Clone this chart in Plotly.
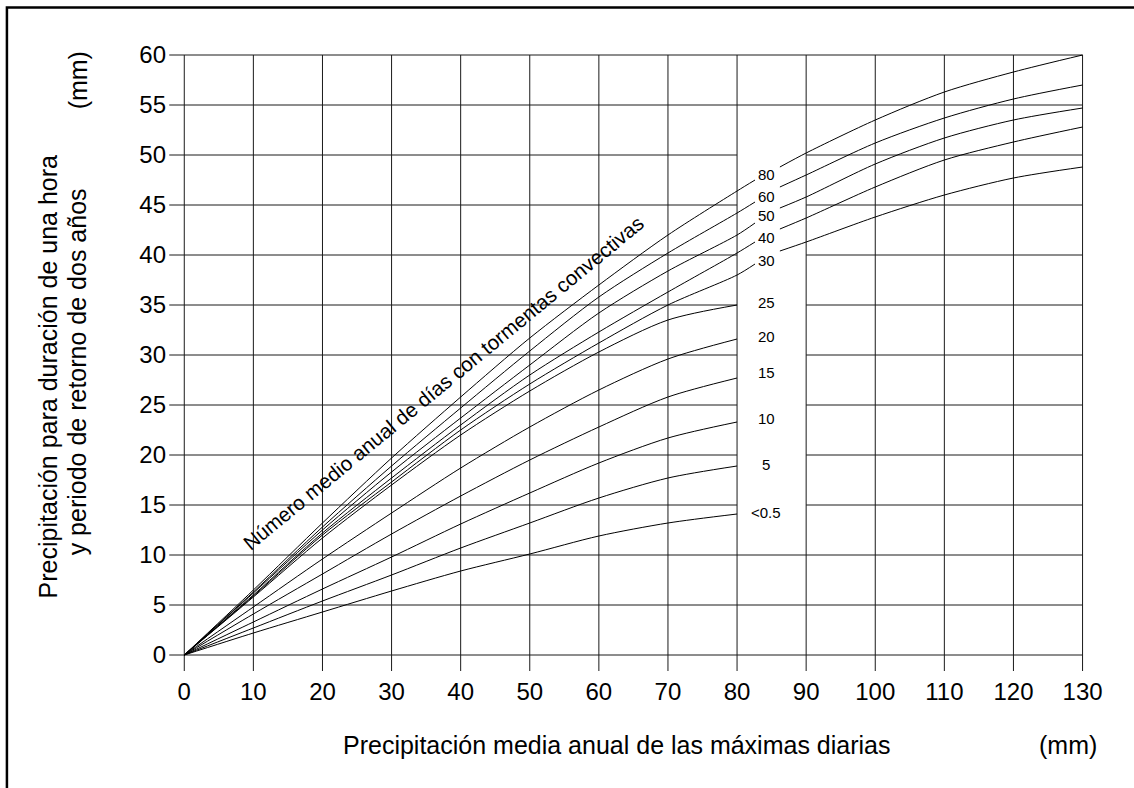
import plotly.graph_objects as go

# ---------------- data ----------------
x_left = [0, 10, 20, 30, 40, 50, 60, 70, 80]
x_left_ext = [0, 10, 20, 30, 40, 50, 60, 70, 80, 82.6]
x_right = [86.2, 90, 100, 110, 120, 130]

# lower family (end at 80)
y_lt05 = [0, 2.2, 4.3, 6.4, 8.4, 10.1, 11.9, 13.2, 14.1]
y_5 = [0, 2.7, 5.4, 8.0, 10.7, 13.2, 15.7, 17.7, 18.9]
y_10 = [0, 3.3, 6.6, 9.8, 13.1, 16.2, 19.2, 21.7, 23.3]
y_15 = [0, 4.1, 8.1, 12.1, 15.9, 19.5, 22.8, 25.8, 27.7]
y_20 = [0, 4.8, 9.6, 14.2, 18.7, 22.8, 26.5, 29.6, 31.6]
y_25 = [0, 5.8, 11.7, 17.0, 22.0, 26.4, 30.3, 33.5, 35.0]

# upper family (left part + right part)
y_30_l = [0, 5.9, 12.0, 17.3, 22.5, 27.1, 31.2, 35.0, 38.0, 39.1]
y_40_l = [0, 6.0, 12.2, 17.7, 23.0, 28.0, 32.3, 36.3, 40.2, 41.3]
y_50_l = [0, 6.2, 12.5, 18.3, 23.7, 29.0, 34.2, 38.4, 42.0, 43.2]
y_60_l = [0, 6.3, 12.8, 18.9, 24.7, 30.4, 35.8, 40.2, 44.2, 45.3]
y_80_l = [0, 6.5, 13.2, 19.7, 25.8, 31.7, 37.0, 42.0, 46.4, 47.5]

y_30_r = [40.4, 41.3, 43.8, 46.0, 47.7, 48.8]
y_40_r = [42.6, 43.7, 46.8, 49.5, 51.3, 52.8]
y_50_r = [44.7, 45.8, 49.1, 51.7, 53.5, 54.7]
y_60_r = [46.8, 48.0, 51.2, 53.7, 55.6, 57.0]
y_80_r = [48.8, 50.2, 53.5, 56.3, 58.3, 60.0]

curve_labels = ["80", "60", "50", "40", "30", "25", "20", "15", "10", "5", "<0.5"]
label_y = [48.1, 45.9, 44.0, 41.8, 39.5, 35.3, 31.9, 28.3, 23.7, 19.1, 14.3]
label_x = 84.2

x_ticks = list(range(0, 131, 10))
y_ticks = list(range(0, 61, 5))

FONT = "Liberation Sans, Arial, sans-serif"

# ---------------- figure ----------------
fig = go.Figure()

lower = [y_lt05, y_5, y_10, y_15, y_20, y_25]
for ys in lower:
    fig.add_trace(go.Scatter(x=x_left, y=ys, mode="lines",
                             line=dict(color="black", width=1, shape="spline", smoothing=0.8),
                             hoverinfo="skip", showlegend=False))

upper = [(y_30_l, y_30_r), (y_40_l, y_40_r), (y_50_l, y_50_r), (y_60_l, y_60_r), (y_80_l, y_80_r)]
for yl, yr in upper:
    fig.add_trace(go.Scatter(x=x_left_ext, y=yl, mode="lines",
                             line=dict(color="black", width=1, shape="spline", smoothing=0.8),
                             hoverinfo="skip", showlegend=False))
    fig.add_trace(go.Scatter(x=x_right, y=yr, mode="lines",
                             line=dict(color="black", width=1, shape="spline", smoothing=0.8),
                             hoverinfo="skip", showlegend=False))

# ---------------- grid (with the gap for the label column) ----------------
shapes = []
GRID = dict(color="#1a1a1a", width=1)
x_ext = -2.17   # horizontal grid lines stick out to the left
y_ext = -1.6    # vertical grid lines stick out downward
for xv in x_ticks:
    shapes.append(dict(type="line", xref="x", yref="y", x0=xv, x1=xv, y0=y_ext, y1=60,
                       line=GRID, layer="below"))
for yv in y_ticks:
    if 15 <= yv <= 50:
        shapes.append(dict(type="line", xref="x", yref="y", x0=x_ext, x1=80, y0=yv, y1=yv,
                           line=GRID, layer="below"))
        shapes.append(dict(type="line", xref="x", yref="y", x0=90, x1=130, y0=yv, y1=yv,
                           line=GRID, layer="below"))
    else:
        shapes.append(dict(type="line", xref="x", yref="y", x0=x_ext, x1=130, y0=yv, y1=yv,
                           line=GRID, layer="below"))

# plot area geometry (pixels)
W, H = 1134, 788
PL, PW = 166.7, 919.7
PT, PH = 50.0, 625.0


def px2paper(px, py):
    return (px - PL) / PW, (PT + PH - py) / PH


# outer frame (only left/top edges visible in the reference)
fx0, fy1 = px2paper(6.5, 7.5)
fx1, fy0 = px2paper(1150, 800)
shapes.append(dict(type="rect", xref="paper", yref="paper", x0=fx0, x1=fx1, y0=fy0, y1=fy1,
                   line=dict(color="black", width=2.5), fillcolor="rgba(0,0,0,0)", layer="above"))

annotations = []
for t, yv in zip(curve_labels, label_y):
    annotations.append(dict(x=label_x, y=yv, xref="x", yref="y", text=t, showarrow=False,
                            font=dict(family=FONT, size=15, color="black"),
                            xanchor="center", yanchor="middle"))

annotations.append(dict(x=37.5, y=27.3, xref="x", yref="y",
                        text="Número medio anual de días con tormentas convectivas",
                        showarrow=False, textangle=-39.5,
                        font=dict(family=FONT, size=20.5, color="black"),
                        xanchor="center", yanchor="middle"))

# axis titles
ax, ay = px2paper(48, 377)
annotations.append(dict(x=ax, y=ay, xref="paper", yref="paper",
                        text="Precipitación para duración de una hora", showarrow=False,
                        textangle=-90, font=dict(family=FONT, size=25, color="black"),
                        xanchor="center", yanchor="middle"))
ax, ay = px2paper(77, 372)
annotations.append(dict(x=ax, y=ay, xref="paper", yref="paper",
                        text="y periodo de retorno de dos años", showarrow=False,
                        textangle=-90, font=dict(family=FONT, size=25, color="black"),
                        xanchor="center", yanchor="middle"))
ax, ay = px2paper(78, 80)
annotations.append(dict(x=ax, y=ay, xref="paper", yref="paper", text="(mm)", showarrow=False,
                        textangle=-90, font=dict(family=FONT, size=25, color="black"),
                        xanchor="center", yanchor="middle"))
ax, ay = px2paper(617, 745)
annotations.append(dict(x=ax, y=ay, xref="paper", yref="paper",
                        text="Precipitación media anual de las máximas diarias", showarrow=False,
                        font=dict(family=FONT, size=25, color="black"),
                        xanchor="center", yanchor="middle"))
ax, ay = px2paper(1068, 745)
annotations.append(dict(x=ax, y=ay, xref="paper", yref="paper", text="(mm)", showarrow=False,
                        font=dict(family=FONT, size=25, color="black"),
                        xanchor="center", yanchor="middle"))

fig.update_layout(
    width=W, height=H,
    margin=dict(l=PL, r=W - PL - PW, t=PT, b=H - PT - PH, pad=0),
    paper_bgcolor="white", plot_bgcolor="white",
    shapes=shapes, annotations=annotations,
    showlegend=False,
    xaxis=dict(range=[-2.5, 130.5], tickvals=x_ticks, ticktext=[str(v) for v in x_ticks],
               showgrid=False, zeroline=False, showline=False, ticks="",
               tickfont=dict(family=FONT, size=24, color="black"), fixedrange=True),
    yaxis=dict(range=[-2.0, 60.5], tickvals=y_ticks, ticktext=[str(v) for v in y_ticks],
               showgrid=False, zeroline=False, showline=False, ticks="",
               tickfont=dict(family=FONT, size=24, color="black"), fixedrange=True),
)

fig.write_html("out.html", config={"displayModeBar": False})
